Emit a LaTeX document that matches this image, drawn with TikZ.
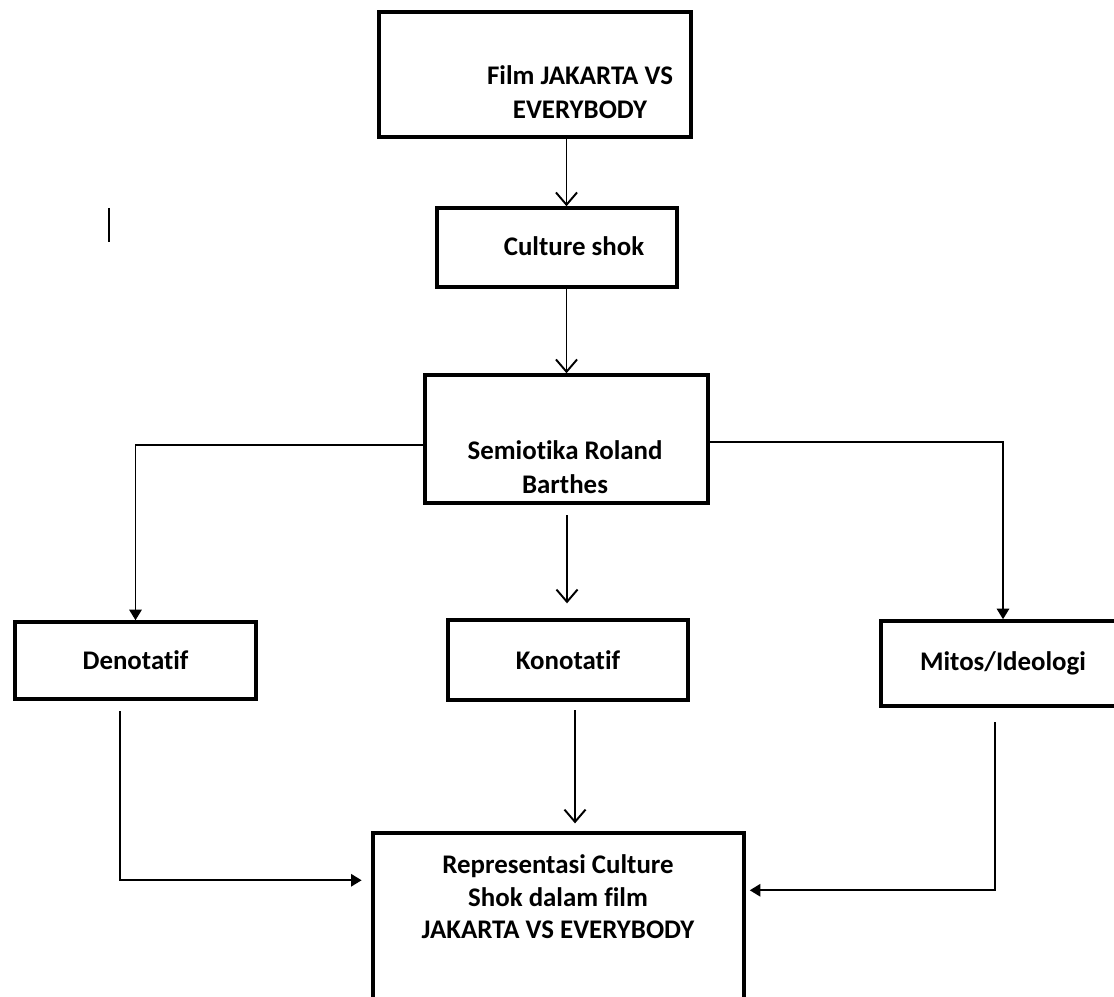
\documentclass[tikz,border=0pt]{standalone}
\usepackage{fontspec}
\setmainfont{Carlito}[Ligatures={NoCommon,NoRequired,NoContextual}, Contextuals=NoAlternate]
\usepackage{tikz}
\usetikzlibrary{arrows.meta, positioning, calc}

\begin{document}
\begin{tikzpicture}[x=0.02cm, y=-0.02cm,
    box/.style={draw, line width=2pt, rectangle, inner sep=0pt},
    lbl/.style={font=\bfseries\fontsize{15.3}{19.5}\selectfont, align=center, inner sep=0pt},
    vee/.style={-{Straight Barb[length=7pt,width=12pt]}, line width=1.1pt},
    tri/.style={-{Triangle[length=6pt,width=7pt]}, line width=1.1pt}]
  \useasboundingbox (0,0) rectangle (1114,996);

  % boxes
  \node[box, minimum width=6.24cm, minimum height=2.5cm] (film) at (535,74.5) {};
  \node[lbl] (filmtext) at (580,92) {Film JAKARTA VS\\EVERYBODY};
  \node[box, minimum width=4.8cm, minimum height=1.58cm] (cs) at (557,247.5) {};
  \node[lbl] (cstext) at (574,246) {Culture shok};
  \node[box, minimum width=5.66cm, minimum height=2.56cm] (sem) at (566.5,439) {};
  \node[lbl] (semtext) at (565,467) {Semiotika Roland\\Barthes};
  \node[box, lbl, minimum width=4.82cm, minimum height=1.54cm] (den) at (135.5,660.5) {Denotatif};
  \node[box, lbl, minimum width=4.8cm, minimum height=1.6cm] (kon) at (568,660) {Konotatif};
  \node[box, lbl, minimum width=4.88cm, minimum height=1.7cm] (mit) at (1003,663.5) {Mitos/Ideologi};
  \node[box, minimum width=7.42cm, minimum height=3.54cm] (rep) at (558.5,921.5) {};
  \node[lbl, font=\bfseries\fontsize{15.3}{18.5}\selectfont] (reptext) at (558,897) {Representasi Culture\\Shok dalam film\\JAKARTA VS EVERYBODY};

  % free ends of the lines
  \coordinate (s0) at (567,515);
  \coordinate (d0) at (120,711);
  \coordinate (k0) at (575,710);
  \coordinate (m0) at (995,722);

  % connectors
  \draw[vee] (film.south -| sem.north) -- (cs.north -| sem.north);
  \draw[vee] (cs.south -| sem.north) -- (sem.north);
  \draw[tri] ($(sem.west)+(0,6)$) -| (den.north);
  \draw[tri] ($(sem.east)+(0,3)$) -| (mit.north);
  \draw[vee, shorten >=8.5pt] (s0) -- (s0 |- kon.north);
  \draw[tri, shorten >=5.5pt] (d0) |- ($(rep.north west)+(0,49)$);
  \draw[vee, shorten >=4.5pt] (k0) -- (k0 |- rep.north);
  \draw[tri, shorten >=2.3pt] (m0) |- ($(rep.north east)+(0,59)$);

  % stray cursor mark
  \draw[line width=1.2pt] (109,208) -- (109,242);
\end{tikzpicture}
\end{document}
